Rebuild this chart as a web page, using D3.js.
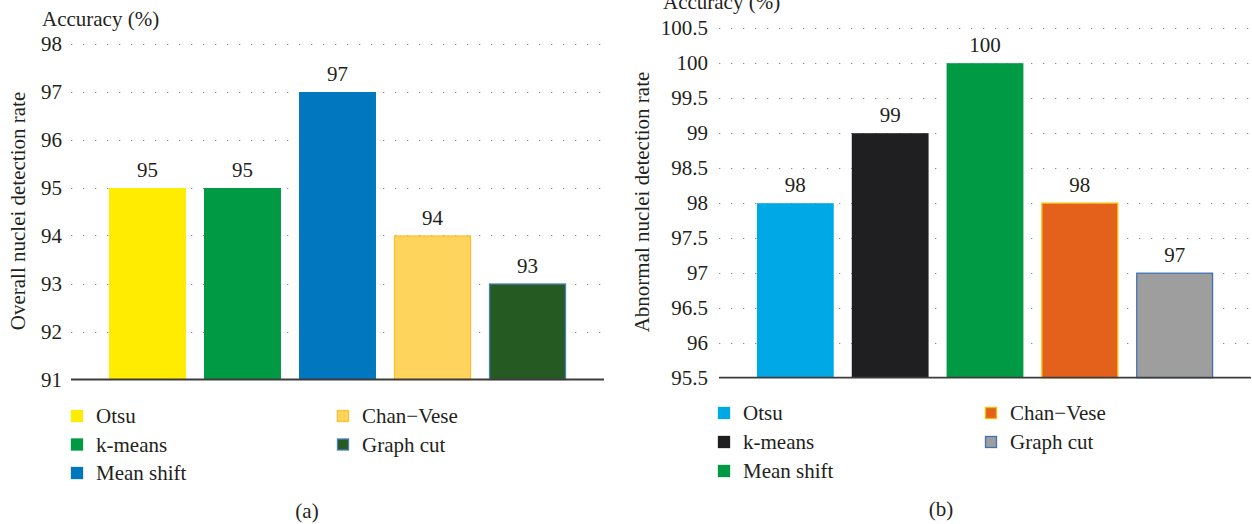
<!DOCTYPE html>
<html>
<head>
<meta charset="utf-8">
<script src="https://cdn.jsdelivr.net/npm/d3@7"></script>
<style>
  html, body { margin: 0; padding: 0; background: #fff; }
  svg { display: block; }
  text { font-family: "Liberation Serif", "DejaVu Serif", serif; fill: #231f20; }
</style>
</head>
<body>
<svg id="chart" width="1252" height="524"></svg>
<script>
// ---- data ----
const methods = ["Otsu", "k-means", "Mean shift", "Chan\u2212Vese", "Graph cut"];
const overallRates = [95, 95, 97, 94, 93];
const abnormalRates = [98, 99, 100, 98, 97];
const overallTicks = [91, 92, 93, 94, 95, 96, 97, 98];
const abnormalTicks = [95.5, 96, 96.5, 97, 97.5, 98, 98.5, 99, 99.5, 100, 100.5];
const overallTitle = "Overall nuclei detection rate";
const abnormalTitle = "Abnormal nuclei detection rate";
const unitLabel = "Accuracy (%)";
const captions = ["(a)", "(b)"];

// ---- styles ----
const fillsA = ["#ffec00", "#009a44", "#0077be", "#ffd45c", "#265a23"];
const strokesA = [null, null, null, "#fdc02f", "#4a7ebb"];
const fillsB = ["#00a9e6", "#1f1f21", "#009a44", "#e3611a", "#9e9e9e"];
const strokesB = [null, null, null, "#fbb900", "#3e72b5"];
const FONT = '"Liberation Serif", "DejaVu Serif", serif';
const FS = "21px";

const svg = d3.select("#chart");

function panel(cfg) {
  const g = svg.append("g");
  const x = d3.scaleBand().domain(methods).range([cfg.x0, cfg.x1])
    .paddingInner(0.19).paddingOuter(0.4);
  const y = d3.scaleLinear().domain(cfg.domain).range([cfg.yBottom, cfg.yTop]);

  // dotted gridlines
  g.append("g").selectAll("line").data(cfg.ticks.slice(1)).join("line")
    .attr("x1", cfg.x0).attr("x2", cfg.x1)
    .attr("y1", d => Math.round(y(d)) + 0.5).attr("y2", d => Math.round(y(d)) + 0.5)
    .attr("stroke", "#8a8a8a").attr("stroke-width", 1.2)
    .attr("stroke-dasharray", "1.3,10.7");

  // y axis tick labels via d3 axis
  const ax = g.append("g").attr("transform", `translate(${cfg.x0},0)`)
    .call(d3.axisLeft(y).tickValues(cfg.ticks).tickSize(0).tickPadding(cfg.x0 - cfg.labelRight)
      .tickFormat(d3.format("")));
  ax.attr("font-family", null).attr("font-size", null);
  ax.select(".domain").remove();
  ax.selectAll("text").style("font-family", FONT)
    .style("font-size", FS).attr("fill", "#231f20");

  // bars
  g.append("g").selectAll("rect").data(cfg.values).join("rect")
    .attr("x", (d, i) => x(methods[i]) + (cfg.strokes[i] ? 0.5 : 0))
    .attr("width", (d, i) => x.bandwidth() - (cfg.strokes[i] ? 1 : 0))
    .attr("y", d => y(d) + 0.5)
    .attr("height", d => y(cfg.domain[0]) - y(d) - 0.5)
    .attr("fill", (d, i) => cfg.fills[i])
    .attr("stroke", (d, i) => cfg.strokes[i] || "none")
    .attr("stroke-width", 1.3);

  // value labels
  g.append("g").selectAll("text").data(cfg.values).join("text")
    .attr("x", (d, i) => x(methods[i]) + x.bandwidth() / 2)
    .attr("y", d => y(d) - 10.5)
    .attr("text-anchor", "middle")
    .style("font-family", FONT).style("font-size", FS)
    .text(d => d);

  // baseline
  g.append("line").attr("x1", cfg.x0).attr("x2", cfg.x1)
    .attr("y1", y(cfg.domain[0])).attr("y2", y(cfg.domain[0]))
    .attr("stroke", "#3c3c3c").attr("stroke-width", 1.8);

  // unit label
  g.append("text").attr("x", cfg.unitX).attr("y", cfg.unitY)
    .style("font-family", FONT).style("font-size", FS).text(unitLabel);

  // y title
  g.append("text")
    .attr("transform", `translate(${cfg.titleX},${cfg.titleY}) rotate(-90)`)
    .attr("text-anchor", "middle")
    .style("font-family", FONT).style("font-size", FS).text(cfg.title);

  // legend
  const lg = g.append("g");
  methods.forEach((m, i) => {
    const col = i < 3 ? 0 : 1;
    const row = i < 3 ? i : i - 3;
    const lx = cfg.legX[col];
    const ly = cfg.legY0 + row * cfg.legStep;
    lg.append("rect").attr("x", lx + 0.5).attr("y", ly - 5.5).attr("width", 11).attr("height", 11)
      .attr("fill", cfg.fills[i]).attr("stroke", cfg.strokes[i] || cfg.fills[i]).attr("stroke-width", 1.3);
    lg.append("text").attr("x", lx + 25).attr("y", ly + 7)
      .style("font-family", FONT).style("font-size", FS).text(m);
  });

  // caption
  g.append("text").attr("x", cfg.capX).attr("y", cfg.capY).attr("text-anchor", "middle")
    .style("font-family", FONT).style("font-size", FS).text(cfg.caption);
}

panel({
  x0: 71, x1: 604, yTop: 43.5, yBottom: 379.5,
  domain: [overallTicks[0], overallTicks[overallTicks.length - 1]],
  ticks: overallTicks, labelRight: 62,
  values: overallRates, fills: fillsA, strokes: strokesA,
  unitX: 42, unitY: 26, title: overallTitle, titleX: 25, titleY: 211,
  legX: [71, 337], legY0: 416, legStep: 28.5,
  caption: captions[0], capX: 307, capY: 518
});

panel({
  x0: 719, x1: 1251, yTop: 27.7, yBottom: 377.7,
  domain: [abnormalTicks[0], abnormalTicks[abnormalTicks.length - 1]],
  ticks: abnormalTicks, labelRight: 708,
  values: abnormalRates, fills: fillsB, strokes: strokesB,
  unitX: 663, unitY: 9, title: abnormalTitle, titleX: 649, titleY: 202,
  legX: [718, 985], legY0: 413, legStep: 29,
  caption: captions[1], capX: 941, capY: 516
});
</script>
</body>
</html>
